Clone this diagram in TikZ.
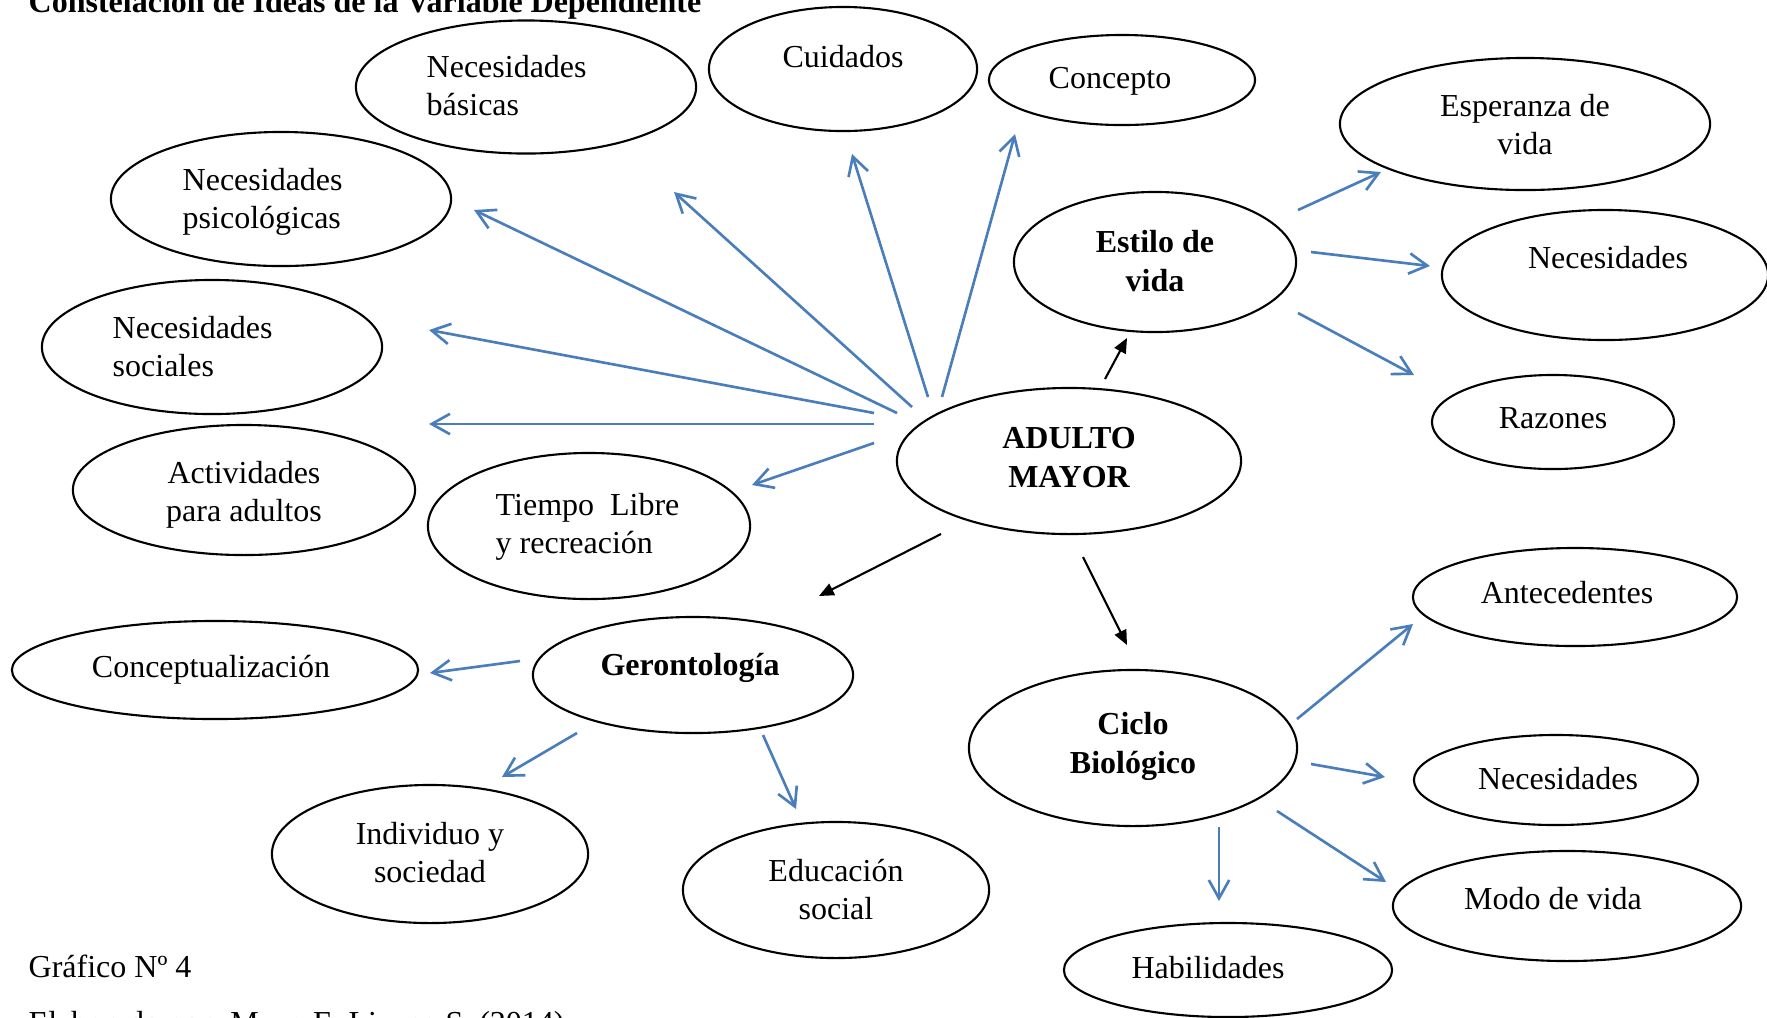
\documentclass[tikz,border=0pt]{standalone}
\usepackage{fontspec}
\setmainfont{Liberation Serif}
\usetikzlibrary{shapes.geometric,arrows.meta}
\definecolor{lineblue}{RGB}{74,126,187}
\tikzset{
  ell/.style={draw=black, ellipse, line width=0.6pt, inner sep=0pt},
  lbl/.style={inner sep=0pt, font=\fontsize{9.1}{10.6}\selectfont},
  bld/.style={inner sep=0pt, font=\fontsize{9.1}{11}\selectfont\bfseries},
  bluearrow/.style={draw=lineblue, line width=0.75pt, -{Straight Barb[length=5.2pt,width=5.8pt]}},
  blackarrow/.style={draw=black, line width=0.6pt, -{Triangle[length=4.2pt,width=3.6pt]}},
}
\begin{document}
\begin{tikzpicture}[x=0.01cm, y=-0.01cm]
\useasboundingbox (0,0) rectangle (1767,1017);
\fill[white] (0,0) rectangle (1767,1017);
\clip (0,0) rectangle (1767,1017);

% ellipses
\node[ell, minimum width=3.40cm, minimum height=1.33cm] (nb) at (526,87) {};
\node[ell, minimum width=2.68cm, minimum height=1.24cm] (cu) at (843,69) {};
\node[ell, minimum width=2.66cm, minimum height=0.90cm] (co) at (1122,80) {};
\node[ell, minimum width=3.70cm, minimum height=1.32cm] (es) at (1525,124) {};
\node[ell, minimum width=2.82cm, minimum height=1.40cm] (ev) at (1155,262) {};
\node[ell, minimum width=3.26cm, minimum height=1.30cm] (nr) at (1605,275) {};
\node[ell, minimum width=2.42cm, minimum height=0.94cm] (ra) at (1553,422) {};
\node[ell, minimum width=3.40cm, minimum height=1.34cm] (np) at (281,199) {};
\node[ell, minimum width=3.40cm, minimum height=1.34cm] (ns) at (212,347) {};
\node[ell, minimum width=3.42cm, minimum height=1.30cm] (ac) at (244,490) {};
\node[ell, minimum width=3.22cm, minimum height=1.46cm] (ti) at (589,526) {};
\node[ell, minimum width=3.44cm, minimum height=1.46cm] (am) at (1069,461) {};
\node[ell, minimum width=4.06cm, minimum height=0.98cm] (cp) at (215,670) {};
\node[ell, minimum width=3.20cm, minimum height=1.16cm] (ge) at (693,675) {};
\node[ell, minimum width=3.16cm, minimum height=1.38cm] (in) at (430,854) {};
\node[ell, minimum width=3.06cm, minimum height=1.36cm] (ed) at (836,890) {};
\node[ell, minimum width=3.28cm, minimum height=1.56cm] (cb) at (1133,748) {};
\node[ell, minimum width=3.24cm, minimum height=0.98cm] (an) at (1575,597) {};
\node[ell, minimum width=2.84cm, minimum height=0.90cm] (nl) at (1556,780) {};
\node[ell, minimum width=3.48cm, minimum height=1.10cm] (mv) at (1567,906) {};
\node[ell, minimum width=3.28cm, minimum height=0.94cm] (ha) at (1228,970) {};

% labels (multi-line labels: base = baseline of the last line)
\node[lbl, align=left, anchor=base west] (tnb) at (426,115) {Necesidades\\básicas};
\node[lbl, anchor=base] (tcu) at (843,67) {Cuidados};
\node[lbl, anchor=base] (tco) at (1110,88) {Concepto};
\node[lbl, align=center, anchor=base] (tes) at (1525,154) {Esperanza de\\vida};
\node[bld, align=center, anchor=base] (tev) at (1155,291) {Estilo de\\vida};
\node[lbl, anchor=base] (tnr) at (1608,268) {Necesidades};
\node[lbl, anchor=base] (tra) at (1553,428) {Razones};
\node[lbl, align=left, anchor=base west] (tnp) at (182,228) {Necesidades\\psicológicas};
\node[lbl, align=left, anchor=base west] (tns) at (112,376) {Necesidades\\sociales};
\node[lbl, align=center, anchor=base] (tac) at (244,521) {Actividades\\para adultos};
\node[lbl, align=left, anchor=base west] (tti) at (495,553) {Tiempo\ \ Libre\\y recreación};
\node[bld, align=center, anchor=base] (tam) at (1069,487) {ADULTO\\MAYOR};
\node[lbl, anchor=base] (tcp) at (211,677) {Conceptualización};
\node[bld, anchor=base] (tge) at (690,675) {Gerontología};
\node[lbl, align=center, anchor=base] (tin) at (430,882) {Individuo y\\sociedad};
\node[lbl, align=center, anchor=base] (ted) at (836,919) {Educación\\social};
\node[bld, align=center, anchor=base] (tcb) at (1133,773) {Ciclo\\Biológico};
\node[lbl, anchor=base] (tan) at (1567,603) {Antecedentes};
\node[lbl, anchor=base] (tnl) at (1558,789) {Necesidades};
\node[lbl, anchor=base] (tmv) at (1553,909) {Modo de vida};
\node[lbl, anchor=base] (tha) at (1208,978) {Habilidades};

\node[bld, anchor=base west] (title) at (28,12) {Constelación de Ideas de la Variable Dependiente};
\node[lbl, anchor=base west] (graf) at (28,977) {Gráfico Nº 4};
\node[lbl, anchor=base west] (elab) at (28,1033) {Elaborado por: Mayo E. Lizano S. (2014)};

% arrow end points
\coordinate (b1s) at (897,413); \coordinate (b1e) at (474,210);
\coordinate (b2s) at (912,407); \coordinate (b2e) at (674,192);
\coordinate (b3s) at (928,397); \coordinate (b3e) at (852,154);
\coordinate (b4s) at (942,397); \coordinate (b4e) at (1015,134);
\coordinate (b5s) at (874,413); \coordinate (b5e) at (429,330);
\coordinate (b6s) at (874,424); \coordinate (b6e) at (429,424);
\coordinate (b7s) at (874,443); \coordinate (b7e) at (752,485);
\coordinate (k1s) at (1105,379); \coordinate (k1e) at (1127,338);
\coordinate (k2s) at (1083,557); \coordinate (k2e) at (1127,645);
\coordinate (k3s) at (941,534); \coordinate (k3e) at (819,596);
\coordinate (e1s) at (1298,210); \coordinate (e1e) at (1381,172);
\coordinate (e2s) at (1311,252); \coordinate (e2e) at (1430,266);
\coordinate (e3s) at (1298,313); \coordinate (e3e) at (1414,375);
\coordinate (g1s) at (520,661); \coordinate (g1e) at (430,673);
\coordinate (g2s) at (577,733); \coordinate (g2e) at (502,777);
\coordinate (g3s) at (763,735); \coordinate (g3e) at (796,809);
\coordinate (c1s) at (1297,719); \coordinate (c1e) at (1413,624);
\coordinate (c2s) at (1311,764); \coordinate (c2e) at (1385,777);
\coordinate (c3s) at (1277,811); \coordinate (c3e) at (1386,882);
\coordinate (c4s) at (1219,827); \coordinate (c4e) at (1219,901);

\foreach \a in {b1,b2,b3,b4,b5,b6,b7,e1,e2,e3,g1,g2,g3,c1,c2,c3,c4}
  \draw[bluearrow] (\a s) -- (\a e);
\foreach \a in {k1,k2,k3}
  \draw[blackarrow] (\a s) -- (\a e);
\end{tikzpicture}
\end{document}
